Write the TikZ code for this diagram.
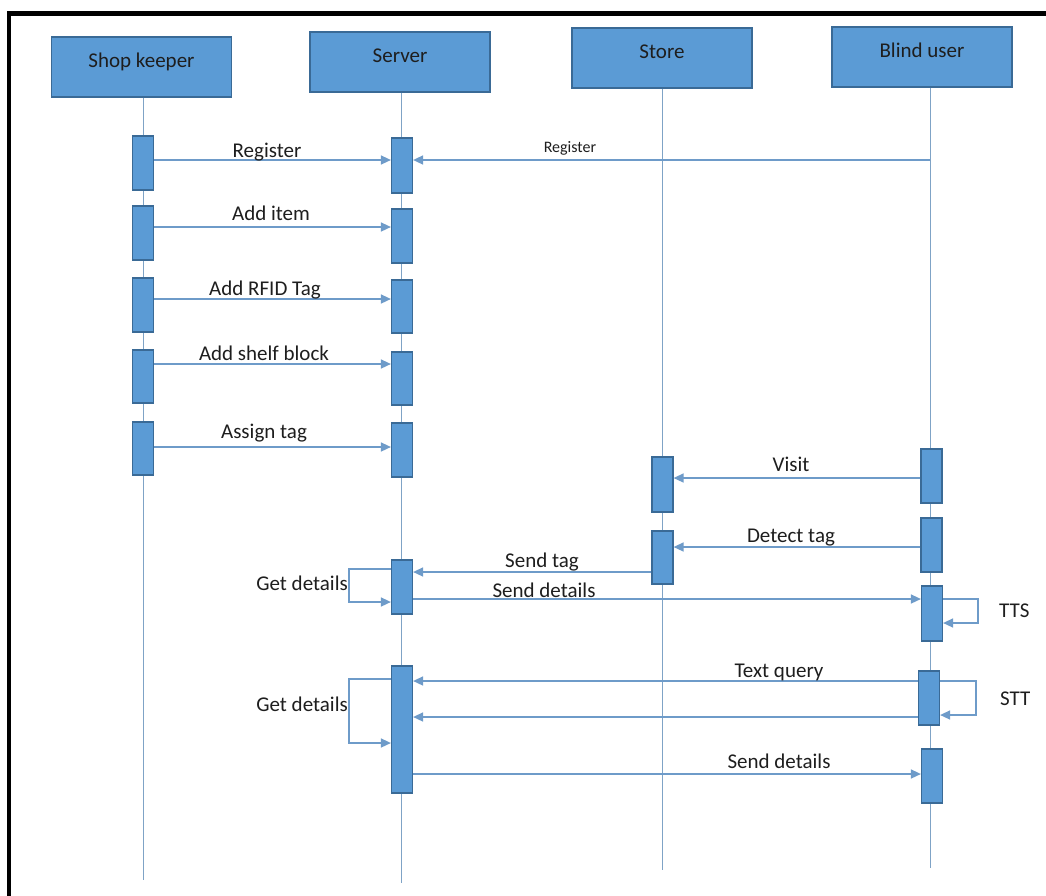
\documentclass[tikz,border=0pt]{standalone}
\usepackage{fontspec}
\setmainfont{Carlito}
\usetikzlibrary{arrows.meta}
\definecolor{boxfill}{HTML}{5B9BD5}
\definecolor{boxedge}{HTML}{3A6A96}
\definecolor{linec}{HTML}{6E9BC9}
\definecolor{lifec}{HTML}{7FA3C6}
\definecolor{txt}{HTML}{1E1E1E}
\begin{document}
\begin{tikzpicture}[x=1pt,y=-1pt,
 hdr/.style={draw=boxedge, fill=boxfill, line width=1.2pt, minimum width=180pt, minimum height=60pt, inner sep=0pt, text height=14pt, text depth=14pt, text=txt, font=\fontsize{21}{25}\selectfont},
 act/.style={draw=boxedge, fill=boxfill, line width=1.2pt, minimum width=21pt, inner sep=0pt},
 life/.style={draw=lifec, line width=1pt},
 msg/.style={draw=linec, line width=1.5pt, -{Triangle[length=10pt,width=9pt]}},
 lbl/.style={anchor=base, text=txt, font=\fontsize{21}{25}\selectfont, inner sep=0pt},
 slbl/.style={anchor=base, text=txt, font=\fontsize{16}{19}\selectfont, inner sep=0pt},
]
\useasboundingbox (0,0) rectangle (1046,895);
\fill[white] (0,0) rectangle (1046,895);
\draw[line width=4.5pt] (9,897) -- (9,13.5) -- (1048,13.5);

% headers
\node[hdr] (sk) at (141.5,67) {Shop keeper};
\node[hdr] (sv) at (400,62) {Server};
\node[hdr] (st) at (662,58) {Store};
\node[hdr] (bu) at (922,57) {Blind user};

% lifelines
\coordinate (skEnd) at (143,880);
\coordinate (svEnd) at (401,883);
\coordinate (stEnd) at (662,870);
\coordinate (buEnd) at (930,868);
\draw[life] (sk.south -| skEnd) -- (skEnd);
\draw[life] (sv.south -| svEnd) -- (svEnd);
\draw[life] (st.south -| stEnd) -- (stEnd);
\draw[life] (bu.south -| buEnd) -- (buEnd);

% activations
\node[act, minimum height=54pt] (sk1) at (143,163) {};
\node[act, minimum height=54pt] (sk2) at (143,233) {};
\node[act, minimum height=54pt] (sk3) at (143,305) {};
\node[act, minimum height=53pt] (sk4) at (143,376.5) {};
\node[act, minimum height=53pt] (sk5) at (143,448.5) {};

\node[act, minimum height=55pt] (sv1) at (402,165.5) {};
\node[act, minimum height=54pt] (sv2) at (402,236) {};
\node[act, minimum height=53pt] (sv3) at (402,306.5) {};
\node[act, minimum height=53pt] (sv4) at (402,378.5) {};
\node[act, minimum height=54pt] (sv5) at (402,450) {};
\node[act, minimum height=54pt] (sv6) at (402,587) {};
\node[act, minimum height=127pt] (sv7) at (402,729.5) {};

\node[act, minimum height=55pt] (st1) at (662.5,484.5) {};
\node[act, minimum height=53pt] (st2) at (662.5,557.5) {};

\node[act, minimum height=54pt] (bu1) at (931.5,476) {};
\node[act, minimum height=54pt] (bu2) at (931.5,545) {};
\node[act, minimum height=55pt] (bu3) at (932,613.5) {};
\node[act, minimum height=54pt] (bu4) at (929,698) {};
\node[act, minimum height=54pt] (bu5) at (932,776) {};

% message levels
\coordinate (m1) at (0,160);
\coordinate (m2) at (0,227);
\coordinate (m3) at (0,299);
\coordinate (m4) at (0,364);
\coordinate (m5) at (0,447);
\coordinate (m6) at (0,478);
\coordinate (m7) at (0,547);
\coordinate (m8) at (0,572);
\coordinate (m9) at (0,599);
\coordinate (m10) at (0,681);
\coordinate (m11) at (0,717);
\coordinate (m12) at (0,774);

% shop keeper -> server
\draw[msg] (sk1.east |- m1) -- (sv1.west |- m1);
\draw[msg] (sk2.east |- m2) -- (sv2.west |- m2);
\draw[msg] (sk3.east |- m3) -- (sv3.west |- m3);
\draw[msg] (sk4.east |- m4) -- (sv4.west |- m4);
\draw[msg] (sk5.east |- m5) -- (sv5.west |- m5);
% blind user register
\draw[msg] (buEnd |- m1) -- (sv1.east |- m1);
% visit, detect tag
\draw[msg] (bu1.west |- m6) -- (st1.east |- m6);
\draw[msg] (bu2.west |- m7) -- (st2.east |- m7);
% send tag, send details
\draw[msg] (st2.west |- m8) -- (sv6.east |- m8);
\draw[msg] (sv6.east |- m9) -- (bu3.west |- m9);
% text query
\draw[msg] (bu4.west |- m10) -- (sv7.east |- m10);
\draw[msg] (bu4.west |- m11) -- (sv7.east |- m11);
% send details 2
\draw[msg] (sv7.east |- m12) -- (bu5.west |- m12);

% self loops
\coordinate (gd1) at (349,569);
\coordinate (gd1b) at (0,602);
\draw[msg] (sv6.west |- gd1) -- (gd1) |- (sv6.west |- gd1b);
\coordinate (gd2) at (349,679);
\coordinate (gd2b) at (0,743);
\draw[msg] (sv7.west |- gd2) -- (gd2) |- (sv7.west |- gd2b);
\coordinate (tts) at (978,599);
\coordinate (ttsb) at (0,623);
\draw[msg] (bu3.east |- tts) -- (tts) |- (bu3.east |- ttsb);
\coordinate (stt) at (976,681);
\coordinate (sttb) at (0,715);
\draw[msg] (bu4.east |- stt) -- (stt) |- (bu4.east |- sttb);

% labels
\node[lbl] (l1) at (267,157) {Register};
\node[slbl] (l1b) at (570,152) {Register};
\node[lbl] (l2) at (271,220) {Add item};
\node[lbl] (l3) at (265,295) {Add RFID Tag};
\node[lbl] (l4) at (264,360) {Add shelf block};
\node[lbl] (l5) at (264,438) {Assign tag};
\node[lbl] (l6) at (791,471) {Visit};
\node[lbl] (l7) at (791,542) {Detect tag};
\node[lbl] (l8) at (542,567) {Send tag};
\node[lbl] (l9) at (544,597) {Send details};
\node[lbl, anchor=base east] (l10) at (348,590) {Get details};
\node[lbl, anchor=base west] (l11) at (999,617) {TTS};
\node[lbl] (l12) at (779,677) {Text query};
\node[lbl, anchor=base west] (l13) at (1000,705) {STT};
\node[lbl, anchor=base east] (l14) at (348,711) {Get details};
\node[lbl] (l15) at (779,768) {Send details};
\end{tikzpicture}
\end{document}
